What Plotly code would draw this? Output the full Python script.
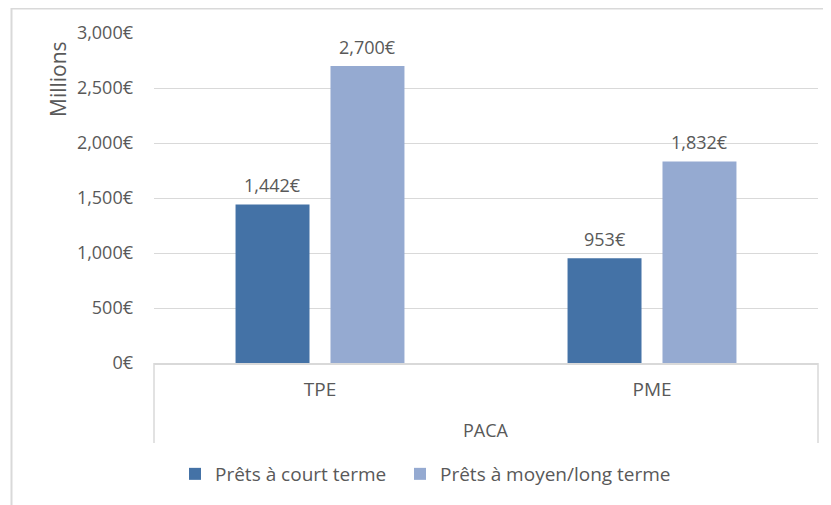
import plotly.graph_objects as go

region = "PACA"
categories = ["TPE", "PME"]
series_names = ["Prêts à court terme", "Prêts à moyen/long terme"]
court_terme = [1442, 953]
moyen_long_terme = [2700, 1832]
y_tick_vals = [0, 500, 1000, 1500, 2000, 2500, 3000]
y_tick_text = ["0€", "500€", "1,000€", "1,500€", "2,000€", "2,500€", "3,000€"]

colors = ["#4472A6", "#95AAD1"]
FONT = "Open Sans"
TXT = "#595959"
GRID = "#D9D9D9"

W, H = 831, 505
OFF = 8  # page body margin
# plot area in screenshot pixels: x 154..818, y 33..363
L, T = 154 - OFF, 33 - OFF
R = W - (818 - OFF)
B = H - (363 - OFF)
PW, PH = W - L - R, H - T - B


def px_x(x):
    return (x - OFF - L) / PW


def px_y(y):
    return (H - B - (y - OFF)) / PH


fig = go.Figure()
series = [court_terme, moyen_long_terme]
legend_ids = ["legend", "legend2"]
annotations = []
for i, (name, vals, col) in enumerate(zip(series_names, series, colors)):
    fig.add_trace(go.Bar(
        x=categories, y=vals, name=name, legend=legend_ids[i],
        marker=dict(color=col, line=dict(width=0)),
    ))
    for cat, v in zip(categories, vals):
        annotations.append(dict(
            x=cat, y=v, xref="x", yref="y", text=f"{v:,.0f}€", showarrow=False,
            xshift=(i - 0.5) * 95, yshift=19, yanchor="middle", xanchor="center",
            font=dict(family=FONT, size=18, color=TXT)))

annotations.append(dict(text="Millions", xref="paper", yref="paper",
                        x=px_x(58), y=px_y(79), textangle=-90,
                        showarrow=False, font=dict(family=FONT, size=21, color=TXT),
                        xanchor="center", yanchor="middle"))
annotations.append(dict(text=region, xref="paper", yref="paper",
                        x=0.5, y=px_y(430), showarrow=False,
                        font=dict(family=FONT, size=18, color=TXT),
                        xanchor="center", yanchor="middle"))

legend_style = dict(orientation="h", xanchor="left", y=px_y(474), yanchor="middle",
                    font=dict(family=FONT, size=19, color=TXT), bgcolor="rgba(0,0,0,0)")

fig.update_layout(
    width=W, height=H,
    margin=dict(l=L, r=R, t=T, b=B, autoexpand=False),
    paper_bgcolor="white", plot_bgcolor="white",
    barmode="group", bargap=0.428, bargroupgap=0.221,
    font=dict(family=FONT, color=TXT, size=16),
    showlegend=True,
    legend=dict(x=px_x(175), **legend_style),
    legend2=dict(x=px_x(400), **legend_style),
    xaxis=dict(type="category", showline=True, linecolor=GRID, linewidth=1.5,
               showgrid=False, automargin=False, ticks="", ticklabelstandoff=8,
               tickfont=dict(family=FONT, size=19, color=TXT)),
    yaxis=dict(range=[0, 3000], tickvals=y_tick_vals, ticktext=y_tick_text,
               showgrid=True, gridcolor=GRID, gridwidth=1.2, automargin=False,
               zeroline=False, showline=False, ticks="", ticklabelstandoff=20,
               tickfont=dict(family=FONT, size=18, color=TXT)),
    shapes=[
        dict(type="line", xref="paper", yref="paper", x0=px_x(11), x1=1.2,
             y0=px_y(8.5), y1=px_y(8.5), line=dict(color=GRID, width=2)),
        dict(type="line", xref="paper", yref="paper", x0=px_x(11.5), x1=px_x(11.5),
             y0=px_y(8), y1=px_y(520), line=dict(color=GRID, width=2)),
        dict(type="line", xref="paper", yref="paper", x0=0, x1=0,
             y0=0, y1=px_y(443), line=dict(color=GRID, width=1.5)),
        dict(type="line", xref="paper", yref="paper", x0=1, x1=1,
             y0=0, y1=px_y(443), line=dict(color=GRID, width=1.5)),
    ],
    annotations=annotations,
)

fig.write_html("out.html")
